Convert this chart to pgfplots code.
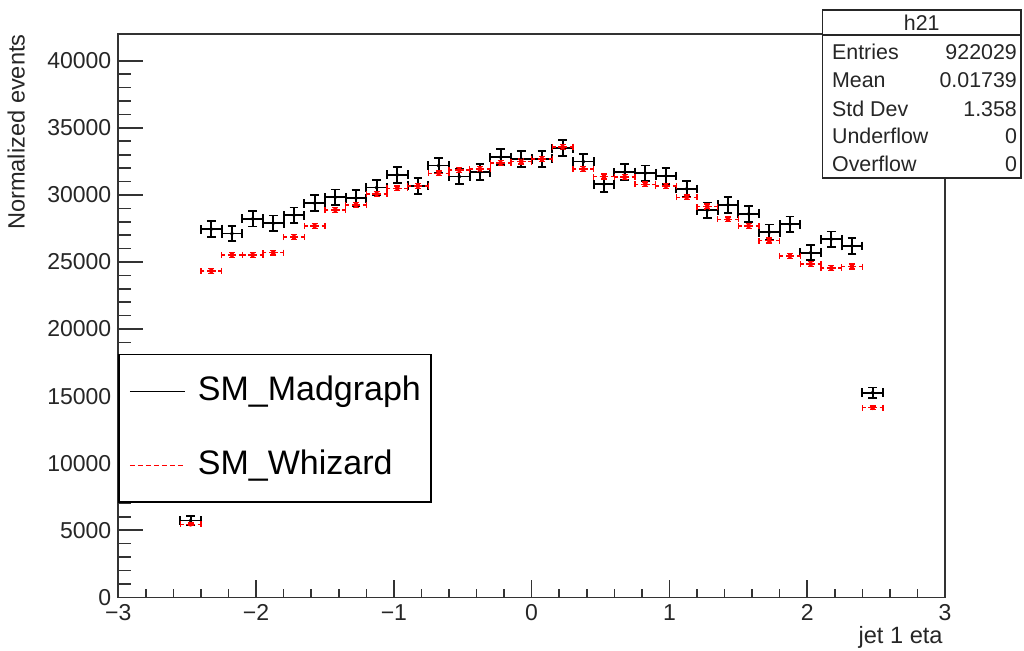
\documentclass[border=0pt]{standalone}
\usepackage{pgfplots}
\usepackage{pgfplotstable}
\pgfplotsset{compat=1.18}
\usepackage{fontspec}
\setmainfont{Liberation Sans}

\pgfplotstableread{
x y ex ey
-2.475 5720 0.075 330
-2.325 27450 0.075 580
-2.175 27120 0.075 580
-2.025 28220 0.075 580
-1.875 27890 0.075 580
-1.725 28490 0.075 580
-1.575 29390 0.075 580
-1.425 29830 0.075 580
-1.275 29760 0.075 580
-1.125 30550 0.075 580
-0.975 31500 0.075 580
-0.825 30680 0.075 580
-0.675 32190 0.075 580
-0.525 31370 0.075 580
-0.375 31700 0.075 580
-0.225 32820 0.075 580
-0.075 32670 0.075 580
0.075 32690 0.075 580
0.225 33490 0.075 580
0.375 32490 0.075 580
0.525 30800 0.075 580
0.675 31700 0.075 580
0.825 31620 0.075 580
0.975 31420 0.075 580
1.125 30450 0.075 580
1.275 28860 0.075 580
1.425 29260 0.075 580
1.575 28590 0.075 580
1.725 27220 0.075 580
1.875 27820 0.075 580
2.025 25700 0.075 580
2.175 26700 0.075 580
2.325 26200 0.075 580
2.475 15260 0.075 380
}\blk

\pgfplotstableread{
x y ex ey
-2.475 5450 0.075 90
-2.325 24340 0.075 180
-2.175 25530 0.075 180
-2.025 25530 0.075 180
-1.875 25700 0.075 180
-1.725 26850 0.075 180
-1.575 27690 0.075 180
-1.425 28890 0.075 180
-1.275 29260 0.075 180
-1.125 30080 0.075 180
-0.975 30500 0.075 180
-0.825 30680 0.075 180
-0.675 31620 0.075 180
-0.525 31870 0.075 180
-0.375 31920 0.075 180
-0.225 32370 0.075 180
-0.075 32490 0.075 180
0.075 32670 0.075 180
0.225 33560 0.075 180
0.375 31920 0.075 180
0.525 31370 0.075 180
0.675 31330 0.075 180
0.825 30800 0.075 180
0.975 30680 0.075 180
1.125 29830 0.075 180
1.275 29130 0.075 180
1.425 28190 0.075 180
1.575 27690 0.075 180
1.725 26600 0.075 180
1.875 25460 0.075 180
2.025 24840 0.075 180
2.175 24540 0.075 180
2.325 24660 0.075 180
2.475 14140 0.075 130
}\rd

\begin{document}
\begin{tikzpicture}
\begin{axis}[
  at={(0pt,0pt)}, anchor=south west,
  scale only axis, width=413.35pt, height=281.65pt,
  xmin=-3, xmax=3, ymin=0, ymax=42000,
  scaled y ticks=false, scaled x ticks=false,
  xtick={-3,-2,-1,0,1,2,3},
  xticklabels={−3,−2,−1,0,1,2,3},
  minor x tick num=4,
  ytick={0,5000,10000,15000,20000,25000,30000,35000,40000},
  yticklabels={0,5000,10000,15000,20000,25000,30000,35000,40000},
  minor y tick num=4,
  xtick pos=bottom, ytick pos=left, tick align=inside,
  xtick style={/pgfplots/major tick length=8.5pt, /pgfplots/minor tick length=4.25pt, line width=0.8pt, black!80},
  ytick style={/pgfplots/major tick length=12.5pt, /pgfplots/minor tick length=6.25pt, line width=0.8pt, black!80},
  axis line style={line width=0.8pt, black!80},
  tick label style={font=\fontsize{11.5}{13}\selectfont, black!85},
  xlabel={jet 1 eta},
  ylabel={Normalized events},
  every axis x label/.style={at={(axis description cs:1,0)}, anchor=north east, inner sep=0pt, xshift=-1pt, yshift=-14.5pt, font=\fontsize{11.8}{13}\selectfont, black!85},
  every axis y label/.style={at={(axis description cs:0,1)}, xshift=-46.5pt, rotate=90, anchor=south east, inner sep=0pt, font=\fontsize{11.8}{13}\selectfont, black!85},
  legend image code/.code={\draw[#1] (0pt,0pt) -- (27.5pt,0pt);},
  legend cell align=left,
  legend style={at={(axis description cs:0,0.1674)}, anchor=south west, draw=black, line width=0.8pt,
    font=\fontsize{17}{20}\selectfont, inner xsep=5pt, inner ysep=10.5pt, row sep=21.2pt, column sep=6pt,
    nodes={inner sep=0pt, text height=12.2pt, text depth=3.6pt}},
]
\addlegendimage{black, line width=0.8pt}
\addlegendentry{SM\_Madgraph}
\addlegendimage{red, line width=0.9pt, dash pattern=on 2.5pt off 1.5pt}
\addlegendentry{SM\_Whizard}

\addplot[black, only marks, mark=*, mark size=0.8pt, forget plot,
  error bars/.cd, x dir=both, x explicit, y dir=both, y explicit,
  error bar style={line width=0.9pt, black},
  error mark options={rotate=90, mark size=2.2pt, line width=0.9pt, black}]
  table[x=x, y=y, x error=ex, y error=ey] {\blk};

\addplot[red, only marks, mark=*, mark size=1pt, forget plot,
  error bars/.cd, x dir=both, x explicit, y dir=both, y explicit,
  error bar style={line width=0.7pt, red, dash pattern=on 2.2pt off 1.3pt},
  error mark options={rotate=90, mark size=1.5pt, line width=0.7pt, red}]
  table[x=x, y=y, x error=ex, y error=ey] {\rd};
\end{axis}

\draw[line width=0.8pt, black!85, fill=white] (352pt,209.65pt) rectangle (451.35pt,293.65pt);
\draw[line width=0.8pt, black!85] (352pt,281.15pt) -- (451.35pt,281.15pt);
\begin{scope}[every node/.style={inner sep=0pt, font=\fontsize{10.7}{12}\selectfont, text=black!85}]
\node at (401.7pt,287.4pt) {h21};
\node[anchor=west] at (356.7pt,272.65pt) {Entries};
\node[anchor=east] at (449.5pt,272.65pt) {922029};
\node[anchor=west] at (356.7pt,258.65pt) {Mean};
\node[anchor=east] at (449.5pt,258.65pt) {0.01739};
\node[anchor=west] at (356.7pt,244.3pt) {Std Dev};
\node[anchor=east] at (449.5pt,244.3pt) {1.358};
\node[anchor=west] at (356.7pt,230.65pt) {Underflow};
\node[anchor=east] at (449.5pt,230.65pt) {0};
\node[anchor=west] at (356.7pt,216.65pt) {Overflow};
\node[anchor=east] at (449.5pt,216.65pt) {0};
\end{scope}

\pgfresetboundingbox
\path[use as bounding box] (-59.15pt,-26.35pt) rectangle (452.85pt,298.65pt);
\end{tikzpicture}
\end{document}
